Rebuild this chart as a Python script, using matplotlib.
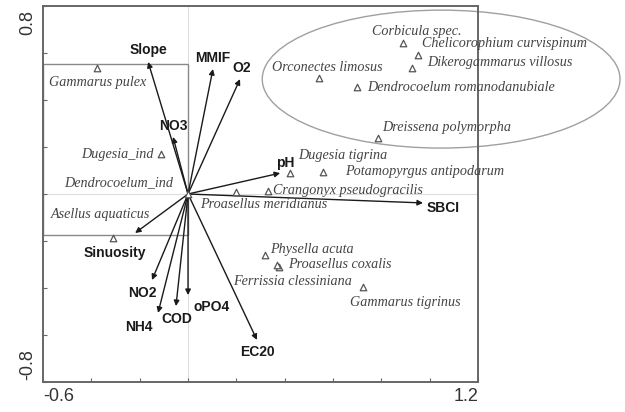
import matplotlib
matplotlib.use("Agg")
import matplotlib.pyplot as plt
from matplotlib.patches import Ellipse, Rectangle

# --- data: species scores (triangles) ---
species = ["Gammarus pulex", "Dugesia_ind", "Dendrocoelum_ind", "Asellus aquaticus",
           "Proasellus meridianus", "Crangonyx pseudogracilis", "Dugesia tigrina",
           "Potamopyrgus antipodarum", "Dreissena polymorpha",
           "Dendrocoelum romanodanubiale", "Orconectes limosus",
           "Dikerogammarus villosus", "Chelicorophium curvispinum", "Corbicula spec.",
           "Physella acuta", "Proasellus coxalis", "Ferrissia clessiniana",
           "Gammarus tigrinus"]
sp_x = [-0.376, -0.112, 0.0, -0.310, 0.199, 0.331, 0.422, 0.559, 0.786,
        0.699, 0.542, 0.927, 0.952, 0.890, 0.319, 0.376, 0.368, 0.724]
sp_y = [0.536, 0.170, 0.0, -0.187, 0.009, 0.013, 0.089, 0.094, 0.238,
        0.455, 0.494, 0.536, 0.591, 0.643, -0.260, -0.311, -0.302, -0.396]

# --- data: environmental vectors ---
variables = ["Slope", "MMIF", "O2", "NO3", "pH", "SBCI", "Sinuosity",
             "NO2", "NH4", "COD", "oPO4", "EC20"]
var_x = [-0.165, 0.103, 0.215, -0.062, 0.381, 0.972, -0.219,
         -0.149, -0.124, -0.050, 0.0, 0.285]
var_y = [0.562, 0.532, 0.489, 0.243, 0.089, -0.038, -0.166,
         -0.366, -0.506, -0.477, -0.430, -0.621]

# label layout (pixel offsets, dx right, dy down) and alignment
sp_off = [(0, 14, "center"), (-7, 0, "right"), (-15, -11, "right"), (37, -23, "right"),
          (-36, 13, "left"), (5, 0, "left"), (8, -18, "left"), (22, 0, "left"),
          (4, -11, "left"), (10, 0, "left"), (-47, -10, "left"), (15, -6, "left"),
          (4, -12, "left"), (14, -11, "center"), (5, -6, "left"), (9, -3, "left"),
          (75, 17, "right"), (-13, 15, "left")]
var_off = [(0, -12, "center"), (0, -11, "center"), (2, -11, "center"), (0, -11, "center"),
           (5, -10, "center"), (4, 5, "left"), (-20, 20, "center"), (-10, 13, "center"),
           (-19, 14, "center"), (1, 13, "center"), (24, 12, "center"), (1, 12, "center")]

PX = 0.72  # points per pixel at dpi 100

fig = plt.figure(figsize=(6.25, 4.12), dpi=100)
ax = fig.add_axes([0.0688, 0.0728, 0.6962, 0.9126])
ax.set_xlim(-0.6, 1.2)
ax.set_ylim(-0.8, 0.8)

frame_col = "#666666"
for s in ax.spines.values():
    s.set_color(frame_col)
    s.set_linewidth(1.4)

ax.axhline(0, color="#dddddd", lw=0.8, zorder=0)
ax.axvline(0, color="#dddddd", lw=0.8, zorder=0)

# grouping outlines
ax.add_patch(Rectangle((-0.6, -0.174), 0.6, 0.727, fill=False,
                       edgecolor="#8a8a8a", lw=1.0, zorder=1))
ax.add_patch(Ellipse((1.047, 0.489), 1.48, 0.587, fill=False,
                     edgecolor="#a0a0a0", lw=1.0, clip_on=False, zorder=1))

# arrows
for name, x, y, (dx, dy, ha) in zip(variables, var_x, var_y, var_off):
    ax.annotate("", xy=(x, y), xytext=(0, 0),
                arrowprops=dict(arrowstyle="-|>", color="#1a1a1a", lw=1.0,
                                mutation_scale=8, shrinkA=0, shrinkB=0), zorder=3)
    ax.annotate(name, xy=(x, y), xytext=(dx * PX, -dy * PX), textcoords="offset points",
                ha=ha, va="center", fontsize=10, fontweight="bold",
                family="Liberation Sans", color="#1a1a1a")

# species
ax.scatter(sp_x, sp_y, marker="^", s=22, facecolor="white", edgecolor="#555555",
           linewidths=0.9, zorder=4)
for name, x, y, (dx, dy, ha) in zip(species, sp_x, sp_y, sp_off):
    ax.annotate(name, xy=(x, y), xytext=(dx * PX, -dy * PX), textcoords="offset points",
                ha=ha, va="center", fontsize=10.2, fontstyle="italic",
                family="Liberation Serif", color="#444444")

# ticks: marks every 0.2, labels only at the ends
ax.set_xticks([-0.6, -0.4, -0.2, 0.0, 0.2, 0.4, 0.6, 0.8, 1.0, 1.2])
ax.set_yticks([-0.8, -0.6, -0.4, -0.2, 0.0, 0.2, 0.4, 0.6, 0.8])
ax.set_xticklabels([])
ax.set_yticklabels([])
ax.tick_params(direction="in", length=3, color=frame_col)

ax.text(-0.6, -0.825, "-0.6", ha="left", va="top", fontsize=13,
        family="Liberation Sans", color="#333333")
ax.text(1.2, -0.825, "1.2", ha="right", va="top", fontsize=13,
        family="Liberation Sans", color="#333333")
ax.text(-0.665, 0.785, "0.8", ha="center", va="top", rotation=90, fontsize=13,
        family="Liberation Sans", color="#333333")
ax.text(-0.665, -0.79, "-0.8", ha="center", va="bottom", rotation=90, fontsize=13,
        family="Liberation Sans", color="#333333")

fig.savefig("out.png", dpi=100)
